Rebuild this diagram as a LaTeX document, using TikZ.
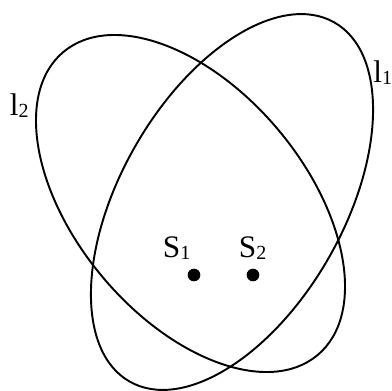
\documentclass[tikz,border=0pt]{standalone}
\usepackage{fontspec}
\setmainfont{Liberation Serif}
\usepackage{tikz}
\usetikzlibrary{positioning}
\newcommand{\lsub}[1]{\raisebox{-1.5pt}{\fontsize{15}{15}\selectfont #1}}

\begin{document}
\begin{tikzpicture}[x=0.75pt, y=0.75pt, line width=1.45pt,
  lbl/.style={inner sep=0pt, anchor=base west, font=\fontsize{23.5}{27}\selectfont},
  dot/.style={circle, fill=black, inner sep=0pt, minimum size=9.5pt}]
\useasboundingbox (0,0) rectangle (392,390);
% the two orbits
\draw[rotate around={60.3:(232,188)}] (232,188) ellipse [x radius=206.7, y radius=111.7];
\draw[rotate around={-50:(190.5,186.5)}] (190.5,186.5) ellipse [x radius=197.8, y radius=114.6];

\node[lbl] (l1) at (372.5,308) {l\lsub{1}};
\node[lbl] (l2) at (9,275) {l\lsub{2}};
\node[lbl] (s1) at (162,133) {S\lsub{1}};
\node[lbl] (s2) at (238,133) {S\lsub{2}};
\node[dot] (p1) at (194,115) {};
\node[dot] (p2) at (253,115) {};
\end{tikzpicture}
\end{document}
